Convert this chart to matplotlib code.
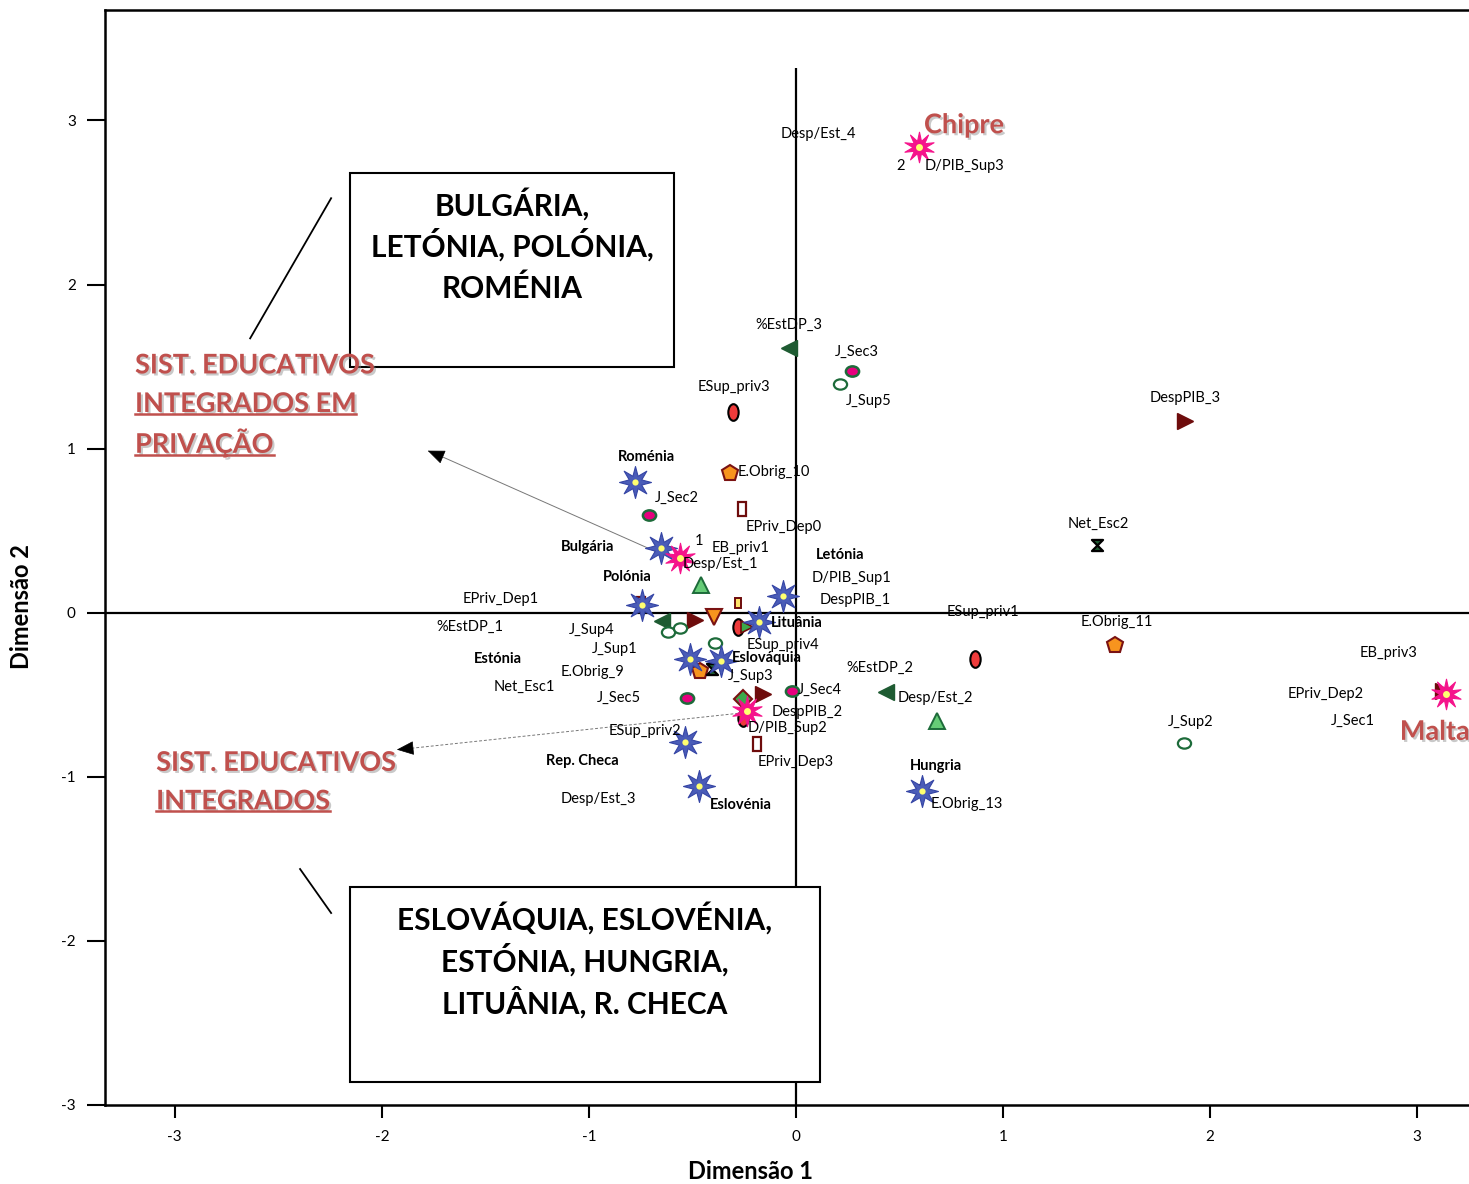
import matplotlib
matplotlib.use("Agg")
import matplotlib.pyplot as plt
import matplotlib.patheffects as pe
from matplotlib.markers import MarkerStyle
from matplotlib.path import Path
from matplotlib.transforms import Affine2D
from matplotlib.lines import Line2D

plt.rcParams['font.family'] = ['Lato', 'DejaVu Sans']
plt.rcParams['axes.unicode_minus'] = False

# countries (blue stars) and their bold labels
country_names = ["Roménia", "Bulgária", "Polónia", "Letónia", "Lituânia",
                 "Estónia", "Eslováquia", "Rep. Checa", "Eslovénia", "Hungria"]
country_x = [-0.777, -0.652, -0.745, -0.061, -0.177, -0.512, -0.364, -0.536, -0.468, 0.608]
country_y = [0.799, 0.397, 0.047, 0.104, -0.059, -0.282, -0.293, -0.787, -1.055, -1.086]
country_lab_x = [-0.724, -1.009, -0.816, 0.212, 0.005, -1.439, -0.140, -1.033, -0.266, 0.676]
country_lab_y = [0.952, 0.403, 0.220, 0.354, -0.061, -0.281, -0.275, -0.903, -1.171, -0.933]

# group points (pink stars): group 1, Chipre, Malta, group 3
group_x = [-0.560, 0.594, 3.139, -0.238]
group_y = [0.336, 2.837, -0.494, -0.598]

# category points by variable
esup_x = [-0.304, -0.279, 0.864, -0.254]
esup_y = [1.226, -0.090, -0.281, -0.639]
jsec_x = [0.270, -0.710, -0.525, -0.021]
jsec_y = [1.470, 0.598, -0.520, -0.476]
jsup_x = [0.212, -0.620, -0.560, -0.391, 1.873]
jsup_y = [1.391, -0.120, -0.092, -0.185, -0.793]
estdp_x = [-0.034, -0.648, 0.435]
estdp_y = [1.611, -0.053, -0.482]
desppib_x = [1.878, -0.488, -0.158, 3.125]
desppib_y = [1.171, -0.043, -0.496, -0.478]
eobrig_x = [-0.319, 1.540, -0.464]
eobrig_y = [0.854, -0.195, -0.358]
epriv_x = [-0.261, -0.748, -0.188]
epriv_y = [0.635, 0.055, -0.799]
despest_x = [-0.279, 0.600]
despest_y = [0.057, -1.080]
downtri_x = [-0.394]
downtri_y = [-0.029]
ebpriv_x = [-0.459, 0.681]
ebpriv_y = [0.171, -0.659]
smalltri_x = [-0.238]
smalltri_y = [-0.084]
dpib_x = [-0.257]
dpib_y = [-0.527]
netesc_x = [1.453, -0.404]
netesc_y = [0.415, -0.344]

# category labels
cat_labels = ["Desp/Est_4", "2", "D/PIB_Sup3", "%EstDP_3", "J_Sec3", "J_Sup5",
              "ESup_priv3", "DespPIB_3", "E.Obrig_10", "J_Sec2", "EPriv_Dep0",
              "Net_Esc2", "1", "EB_priv1", "Desp/Est_1", "D/PIB_Sup1", "DespPIB_1",
              "EPriv_Dep1", "ESup_priv1", "E.Obrig_11", "%EstDP_1", "J_Sup4",
              "ESup_priv4", "J_Sup1", "EB_priv3", "%EstDP_2", "E.Obrig_9", "J_Sup3",
              "Net_Esc1", "J_Sec4", "EPriv_Dep2", "Desp/Est_2", "J_Sec5", "DespPIB_2",
              "J_Sec1", "J_Sup2", "D/PIB_Sup2", "ESup_priv2", "EPriv_Dep3",
              "Desp/Est_3", "E.Obrig_13"]
cat_lab_x = [0.106, 0.507, 0.816, -0.034, 0.295, 0.352, -0.299, 1.878, -0.106, -0.575,
             -0.058, 1.458, -0.468, -0.266, -0.367, 0.270, 0.285, -1.424, 0.903, 1.550,
             -1.574, -0.985, -0.063, -0.874, 2.863, 0.406, -0.985, -0.217, -1.313, 0.116,
             2.559, 0.671, -0.855, 0.053, 2.690, 1.907, -0.043, -0.729, 0.000, -0.956, 0.826]
cat_lab_y = [2.916, 2.721, 2.721, 1.757, 1.592, 1.293, 1.373, 1.306, 0.860, 0.702,
             0.525, 0.543, 0.439, 0.397, 0.299, 0.214, 0.079, 0.085, 0.006, -0.055,
             -0.085, -0.104, -0.195, -0.220, -0.244, -0.336, -0.360, -0.384, -0.451, -0.470,
             -0.494, -0.519, -0.519, -0.604, -0.659, -0.665, -0.702, -0.720, -0.909, -1.135, -1.165]

# members of each group (box text)
group1_lines = ["BULGÁRIA,", "LETÓNIA, POLÓNIA,", "ROMÉNIA"]
group3_lines = ["ESLOVÁQUIA, ESLOVÉNIA,", "ESTÓNIA, HUNGRIA,", "LITUÂNIA, R. CHECA"]

RED = '#C0504D'
DKGREEN = '#1E5B32'
DKRED = '#6E0C0C'

fig = plt.figure(figsize=(14.69, 11.84), dpi=100)
ax = fig.add_axes([105 / 1469, 1 - 1105 / 1184, 1 - 105 / 1469, (1105 - 10) / 1184])
ax.set_xlim(-3.337, 3.25)
ax.set_ylim(-3.0, 3.673)

for s in ['left', 'top', 'bottom']:
    ax.spines[s].set_linewidth(1.8)
ax.spines['right'].set_visible(False)
ax.set_xticks(range(-3, 4))
ax.set_yticks(range(-3, 4))
ax.tick_params(axis='y', length=13, width=1.5, pad=8, labelsize=11)
ax.tick_params(axis='x', length=9, width=1.5, pad=9, labelsize=11)

ax.axhline(0, color='black', lw=1.6, zorder=1)
ax.vlines(0, -3.0, 3.32, color='black', lw=1.6, zorder=1)

ax.text(0.4736, -0.061, "Dimensão 1", transform=ax.transAxes, ha='center', va='center',
        fontsize=17, fontweight='bold')
ax.text(-0.0609, 0.455, "Dimensão 2", transform=ax.transAxes, ha='center', va='center',
        rotation=90, fontsize=17, fontweight='bold')

# marker shapes
star8 = MarkerStyle(Path.unit_regular_star(8, 0.42))
star10 = MarkerStyle(Path.unit_regular_star(10, 0.42))
ellipse = MarkerStyle('o', transform=Affine2D().scale(0.62, 1.0))
flat_o = MarkerStyle('o', transform=Affine2D().scale(1.0, 0.78))
tall_s = MarkerStyle('s', transform=Affine2D().scale(0.62, 1.0))
hourglass = MarkerStyle(Path([(-1, 1), (1, 1), (-1, -1), (1, -1), (-1, 1)],
                             [Path.MOVETO, Path.LINETO, Path.LINETO, Path.LINETO, Path.CLOSEPOLY]))

ax.plot(epriv_x, epriv_y, ls='none', marker=tall_s, ms=10, mfc='white', mec=DKRED, mew=1.6, zorder=3)
ax.plot(despest_x, despest_y, ls='none', marker=tall_s, ms=7, mfc='#FFE36A', mec=DKRED, mew=1.4, zorder=3)
ax.plot(desppib_x, desppib_y, ls='none', marker='>', ms=12, mfc=DKRED, mec=DKRED, zorder=3)
ax.plot(estdp_x, estdp_y, ls='none', marker='<', ms=12, mfc=DKGREEN, mec=DKGREEN, zorder=3)
ax.plot(eobrig_x, eobrig_y, ls='none', marker='p', ms=12, mfc='#F7941E', mec='#7A1212', mew=1.5, zorder=3)
ax.plot(downtri_x, downtri_y, ls='none', marker='v', ms=11, mfc='#F7941E', mec='#7A1212', mew=1.5, zorder=3)
ax.plot(esup_x, esup_y, ls='none', marker=ellipse, ms=12, mfc='#EE3B3B', mec='black', mew=1.5, zorder=4)
ax.plot(jsec_x, jsec_y, ls='none', marker=flat_o, ms=9.5, mfc='#E6007E', mec='#1D6B3A', mew=1.8, zorder=4)
ax.plot(jsup_x, jsup_y, ls='none', marker=flat_o, ms=9.5, mfc='white', mec='#1D6B3A', mew=1.6, zorder=4)
ax.plot(ebpriv_x, ebpriv_y, ls='none', marker='^', ms=12, mfc='#66CC77', mec='#1D6B3A', mew=1.4, zorder=4)
ax.plot(smalltri_x, smalltri_y, ls='none', marker='>', ms=9, mfc='#3BAA4A', mec=DKRED, mew=1.2, zorder=4)
ax.plot(dpib_x, dpib_y, ls='none', marker='D', ms=9.5, mfc='#3BAA4A', mec='#7A1212', mew=1.5, zorder=4)
ax.plot(netesc_x, netesc_y, ls='none', marker=hourglass, ms=8, mfc=DKGREEN, mec='black', mew=1.6, zorder=4)

ax.plot(country_x, country_y, ls='none', marker=star8, ms=23, mfc='#4A5CB8', mec='#3545A5', mew=0.8, zorder=5)
ax.plot(country_x, country_y, ls='none', marker='o', ms=4.5, mfc='#FFFF70', mec='none', zorder=6)
ax.plot(group_x, group_y, ls='none', marker=star10, ms=22, mfc='#F5138B', mec='#F5138B', mew=0.8, zorder=5)
ax.plot(group_x, group_y, ls='none', marker='o', ms=5, mfc='#FFFF70', mec='none', zorder=6)

for t, x, y in zip(cat_labels, cat_lab_x, cat_lab_y):
    ax.text(x, y, t, ha='center', va='center', fontsize=10.5, zorder=7)
for t, x, y in zip(country_names, country_lab_x, country_lab_y):
    ax.text(x, y, t, ha='center', va='center', fontsize=10.5, fontweight='bold', zorder=7)

# arrows towards the two groups
ax.plot([-0.676, -1.74], [0.372, 0.968], color='#777777', lw=0.7, zorder=2)
ax.annotate("", xy=(-1.791, 0.994), xytext=(-1.70, 0.946),
            arrowprops=dict(arrowstyle='-|>,head_length=1.1,head_width=0.45', fc='black', ec='black', lw=0.5))
ax.plot([-0.256, -1.88], [-0.610, -0.829], color='#777777', lw=0.7, ls=(0, (3, 2)), zorder=2)
ax.annotate("", xy=(-1.941, -0.836), xytext=(-1.85, -0.825),
            arrowprops=dict(arrowstyle='-|>,head_length=1.1,head_width=0.45', fc='black', ec='black', lw=0.5))

# connectors
ax.plot([-2.245, -2.636], [2.526, 1.672], color='black', lw=1.3, zorder=2)
ax.plot([-2.395, -2.245], [-1.562, -1.830], color='black', lw=1.3, zorder=2)

# boxes with group members, one text per line on the baseline
ax.add_patch(plt.Rectangle((-2.154, 1.495), 1.565, 1.183, fc='white', ec='black', lw=1.5, zorder=2))
ax.add_patch(plt.Rectangle((-2.154, -2.861), 2.270, 1.189, fc='white', ec='black', lw=1.5, zorder=2))
box_line_h = 41.5 / 163.9
for i, t in enumerate(group1_lines):
    ax.text(-1.371, 2.422 - i * box_line_h, t, ha='center', va='baseline',
            fontsize=21.5, fontweight='bold', zorder=3)
for i, t in enumerate(group3_lines):
    ax.text(-1.019, -1.934 - i * box_line_h, t, ha='center', va='baseline',
            fontsize=21.5, fontweight='bold', zorder=3)

# red group titles
shadow = [pe.SimplePatchShadow(offset=(1.5, -1.5), shadow_rgbFace='#888888', alpha=0.45), pe.Normal()]
red_kw = dict(color=RED, fontsize=19.5, fontweight='bold', va='center', ha='left', zorder=8, path_effects=shadow)
underlined = []
line_h = 38.5 / 163.9
for i, t in enumerate(["SIST. EDUCATIVOS", "INTEGRADOS EM", "PRIVAÇÃO"]):
    tx = ax.text(-3.192, 1.507 - i * line_h, t, **red_kw)
    if i > 0:
        underlined.append(tx)
for i, t in enumerate(["SIST. EDUCATIVOS", "INTEGRADOS"]):
    tx = ax.text(-3.090, -0.915 - i * line_h, t, **red_kw)
    if i > 0:
        underlined.append(tx)
ax.text(0.618, 2.971, "Chipre", **red_kw)
ax.text(2.916, -0.726, "Malta", **red_kw)

fig.canvas.draw()
inv = fig.transFigure.inverted()
for tx in underlined:
    bb = tx.get_window_extent()
    (x0, y0), (x1, _) = inv.transform([(bb.x0, bb.y0 + 2), (bb.x1, bb.y0)])
    fig.add_artist(Line2D([x0, x1], [y0, y0], color=RED, lw=1.8, path_effects=shadow, zorder=8))

fig.savefig("out.png", dpi=100)
